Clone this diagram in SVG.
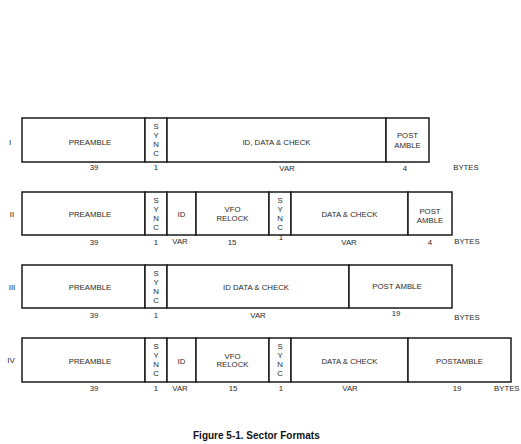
<svg xmlns="http://www.w3.org/2000/svg" width="521" height="444" viewBox="0 0 521 444">
<style>
  .cell { fill: #ffffff; stroke: #1a1a1a; stroke-width: 1.5; }
  text { font-family: "Liberation Sans", Arial, sans-serif; font-size: 7.8px; fill: #2a2a2a; text-anchor: middle; }
  .rl { font-size: 8px; }
  .num { font-size: 7.8px; }
  .cap { font-size: 10px; font-weight: bold; fill: #111; text-anchor: start; }
</style>
<rect width="521" height="444" fill="#ffffff"/>

<!-- Row I -->
<g id="row-I">
  <text class="rl" x="10" y="145">I</text>
  <g id="I-preamble"><rect class="cell" x="22" y="118" width="123" height="44"/><text x="90" y="145">PREAMBLE</text></g>
  <g id="I-sync"><rect class="cell" x="145" y="118" width="22" height="44"/>
    <text x="156" y="128.5">S</text><text x="156" y="137.5">Y</text><text x="156" y="146.5">N</text><text x="156" y="155.5">C</text></g>
  <g id="I-data"><rect class="cell" x="167" y="118" width="219" height="44"/><text x="276.5" y="145">ID, DATA &amp; CHECK</text></g>
  <g id="I-post"><rect class="cell" x="386" y="118" width="43" height="44"/><text x="407.5" y="138">POST</text><text x="407.5" y="147.5">AMBLE</text></g>
  <g id="I-sizes">
    <text class="num" x="94" y="170">39</text>
    <text class="num" x="156" y="170">1</text>
    <text class="num" x="287" y="171">VAR</text>
    <text class="num" x="405" y="171">4</text>
    <text class="num" x="466" y="170">BYTES</text>
  </g>
</g>

<!-- Row II -->
<g id="row-II">
  <text class="rl" x="12" y="217">II</text>
  <g id="II-preamble"><rect class="cell" x="22" y="192" width="123" height="43"/><text x="90" y="217">PREAMBLE</text></g>
  <g id="II-sync1"><rect class="cell" x="145" y="192" width="22" height="43"/>
    <text x="156" y="202.5">S</text><text x="156" y="211.5">Y</text><text x="156" y="220.5">N</text><text x="156" y="229.5">C</text></g>
  <g id="II-id"><rect class="cell" x="167" y="192" width="29" height="43"/><text x="181.5" y="217">ID</text></g>
  <g id="II-vfo"><rect class="cell" x="196" y="192" width="73" height="43"/><text x="232.5" y="212">VFO</text><text x="232.5" y="221">RELOCK</text></g>
  <g id="II-sync2"><rect class="cell" x="269" y="192" width="22" height="43"/>
    <text x="280" y="202.5">S</text><text x="280" y="211.5">Y</text><text x="280" y="220.5">N</text><text x="280" y="229.5">C</text></g>
  <g id="II-data"><rect class="cell" x="291" y="192" width="117" height="43"/><text x="349.5" y="216.5">DATA &amp; CHECK</text></g>
  <g id="II-post"><rect class="cell" x="408" y="192" width="44" height="43"/><text x="430" y="214">POST</text><text x="430" y="223">AMBLE</text></g>
  <g id="II-sizes">
    <text class="num" x="94" y="244.5">39</text>
    <text class="num" x="156" y="244.5">1</text>
    <text class="num" x="180" y="244">VAR</text>
    <text class="num" x="232" y="244.5">15</text>
    <text class="num" x="281" y="239.5">1</text>
    <text class="num" x="349" y="244.5">VAR</text>
    <text class="num" x="430" y="244.5">4</text>
    <text class="num" x="467" y="243.5">BYTES</text>
  </g>
</g>

<!-- Row III -->
<g id="row-III">
  <text class="rl" x="12" y="290">III</text>
  <g id="III-preamble"><rect class="cell" x="22" y="265" width="123" height="43"/><text x="90" y="290">PREAMBLE</text></g>
  <g id="III-sync"><rect class="cell" x="145" y="265" width="22" height="43"/>
    <text x="156" y="275.5">S</text><text x="156" y="284.5">Y</text><text x="156" y="293.5">N</text><text x="156" y="302.5">C</text></g>
  <g id="III-data"><rect class="cell" x="167" y="265" width="182" height="43"/><text x="256" y="289.5">ID DATA &amp; CHECK</text></g>
  <g id="III-post"><rect class="cell" x="349" y="265" width="103" height="43"/><text x="397" y="289">POST AMBLE</text></g>
  <g id="III-sizes">
    <text class="num" x="94" y="318">39</text>
    <text class="num" x="156" y="318">1</text>
    <text class="num" x="258" y="318">VAR</text>
    <text class="num" x="396" y="316">19</text>
    <text class="num" x="467" y="319.5">BYTES</text>
  </g>
</g>

<!-- Row IV -->
<g id="row-IV">
  <text class="rl" x="11" y="363">IV</text>
  <g id="IV-preamble"><rect class="cell" x="22" y="338" width="123" height="44"/><text x="90" y="364">PREAMBLE</text></g>
  <g id="IV-sync1"><rect class="cell" x="145" y="338" width="22" height="44"/>
    <text x="156" y="348.5">S</text><text x="156" y="357.5">Y</text><text x="156" y="366.5">N</text><text x="156" y="375.5">C</text></g>
  <g id="IV-id"><rect class="cell" x="167" y="338" width="29" height="44"/><text x="181.5" y="364">ID</text></g>
  <g id="IV-vfo"><rect class="cell" x="196" y="338" width="73" height="44"/><text x="232.5" y="359">VFO</text><text x="232.5" y="367">RELOCK</text></g>
  <g id="IV-sync2"><rect class="cell" x="269" y="338" width="22" height="44"/>
    <text x="280" y="348.5">S</text><text x="280" y="357.5">Y</text><text x="280" y="366.5">N</text><text x="280" y="375.5">C</text></g>
  <g id="IV-data"><rect class="cell" x="291" y="338" width="117" height="44"/><text x="349.5" y="364">DATA &amp; CHECK</text></g>
  <g id="IV-post"><rect class="cell" x="408" y="338" width="103" height="44"/><text x="459.5" y="364">POSTAMBLE</text></g>
  <g id="IV-sizes">
    <text class="num" x="94" y="391">39</text>
    <text class="num" x="156" y="391">1</text>
    <text class="num" x="180" y="391">VAR</text>
    <text class="num" x="233" y="391">15</text>
    <text class="num" x="281" y="391">1</text>
    <text class="num" x="350" y="391">VAR</text>
    <text class="num" x="457" y="391">19</text>
    <text class="num" x="494" y="391" style="text-anchor:start">BYTES</text>
  </g>
</g>

<text id="caption" class="cap" x="193" y="439">Figure 5-1. Sector Formats</text>
</svg>
